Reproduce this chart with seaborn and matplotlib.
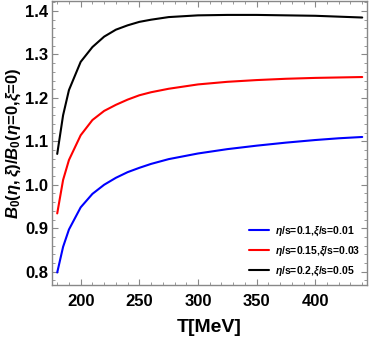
import matplotlib
matplotlib.use("Agg")
import matplotlib.pyplot as plt
import numpy as np
import pandas as pd
import seaborn as sns
from matplotlib.ticker import MultipleLocator

##### DADOS ######################################################################
T = [180, 185, 190, 200, 210, 220, 230, 240, 250, 260, 275, 300,
     325, 350, 375, 400, 420, 440]
blue = [0.798, 0.857, 0.897, 0.948, 0.979, 1.000, 1.016, 1.029, 1.039, 1.048, 1.059, 1.072,
        1.082, 1.090, 1.097, 1.103, 1.107, 1.110]
red = [0.934, 1.011, 1.057, 1.114, 1.149, 1.170, 1.184, 1.196, 1.206, 1.213, 1.221, 1.231,
       1.237, 1.241, 1.244, 1.246, 1.247, 1.248]
black = [1.071, 1.160, 1.218, 1.283, 1.317, 1.341, 1.357, 1.367, 1.375, 1.380, 1.386, 1.390,
         1.391, 1.391, 1.390, 1.389, 1.387, 1.385]
rotulos = [r"$\eta$/s=0.1,$\xi$/s=0.01", r"$\eta$/s=0.15,$\xi$/s=0.03",
           r"$\eta$/s=0.2,$\xi$/s=0.05"]
cores = ["#0000ff", "#ff0000", "#000000"]

dados = pd.DataFrame({"T": T * 3, "B": blue + red + black,
                      "caso": [rotulos[0]] * len(T) + [rotulos[1]] * len(T) + [rotulos[2]] * len(T)})

##### ESTILO #####################################################################
sns.set_style("ticks")
plt.rcParams["font.family"] = ["Liberation Sans", "DejaVu Sans"]
plt.rcParams["font.weight"] = "bold"
plt.rcParams["text.color"] = "black"
plt.rcParams["axes.labelcolor"] = "black"
plt.rcParams["xtick.labelcolor"] = "black"
plt.rcParams["ytick.labelcolor"] = "black"
plt.rcParams["mathtext.fontset"] = "custom"
plt.rcParams["mathtext.it"] = "Liberation Sans:italic:bold"
plt.rcParams["mathtext.rm"] = "Liberation Sans:bold"
plt.rcParams["mathtext.bf"] = "Liberation Sans:bold"

fig = plt.figure(figsize = (3.71, 3.39), dpi = 100)
ax = fig.add_axes([0.140, 0.159, 0.849, 0.838])

sns.lineplot(data = dados, x = "T", y = "B", hue = "caso", palette = cores,
             linewidth = 1.5, ax = ax, legend = True)

ax.set_xlim(175.5, 444)
ax.set_ylim(0.769, 1.423)
ax.xaxis.set_major_locator(MultipleLocator(50))
ax.xaxis.set_minor_locator(MultipleLocator(10))
ax.yaxis.set_major_locator(MultipleLocator(0.1))
ax.yaxis.set_minor_locator(MultipleLocator(0.02))
ax.yaxis.set_major_formatter(matplotlib.ticker.FormatStrFormatter("%.1f"))
ax.tick_params(which = "both", direction = "in", color = "#888888", top = True, right = True)
ax.tick_params(which = "major", length = 4, labelsize = 12)
ax.tick_params(axis = "x", which = "major", pad = 6.5)
ax.tick_params(axis = "y", which = "major", pad = 2.5)
ax.tick_params(which = "minor", length = 2)
for s in ax.spines.values():
	s.set_color("#888888")
	s.set_linewidth(1.0)

ax.set_xlabel("T[MeV]", fontsize = 14, fontweight = "bold", labelpad = 7)
ax.set_ylabel(r"$B_0(\eta,\xi)/B_0(\eta$=0,$\xi$=0)", fontsize = 12, fontweight = "bold", labelpad = 2)

leg = ax.legend(loc = "lower right", bbox_to_anchor = (0.991, 0.010), borderaxespad = 0,
                frameon = False, fontsize = 7.5, handlelength = 2.0,
                labelspacing = 0.62, handletextpad = 0.5)
for t in leg.get_texts():
	t.set_fontweight("bold")

plt.savefig("out.png", dpi = 100)
